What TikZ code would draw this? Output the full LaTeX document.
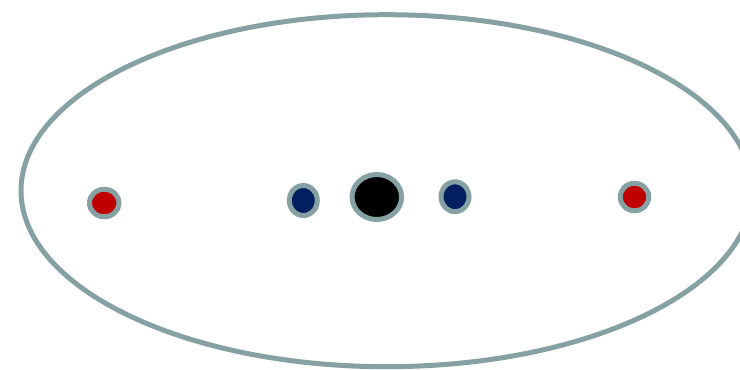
\documentclass[tikz,border=0pt]{standalone}
\usepackage{xcolor}
\usepackage{tikz}
\usetikzlibrary{shapes.geometric}

\definecolor{orbitgray}{RGB}{134,161,164}
\definecolor{planetred}{RGB}{192,0,0}
\definecolor{planetblue}{RGB}{0,32,96}

\begin{document}
\begin{tikzpicture}[x=0.02cm, y=-0.02cm,
    body/.style={ellipse, draw=orbitgray, line width=0.1cm, inner sep=0pt, outer sep=0pt}]
  \clip (0,0) rectangle (740,369);
  % orbit
  \draw[orbitgray, line width=0.1cm] (386.6,190.7) ellipse [x radius=365.6, y radius=176];
  % central body
  \node[body, fill=black, minimum width=49.5*0.02cm, minimum height=45*0.02cm] (sun) at (376.8,197) {};
  % inner bodies
  \node[body, fill=planetblue, minimum width=28*0.02cm, minimum height=30*0.02cm] (innerL) at (303.3,200.5) {};
  \node[body, fill=planetblue, minimum width=28*0.02cm, minimum height=29.8*0.02cm] (innerR) at (455,196.7) {};
  % outer bodies
  \node[body, fill=planetred, minimum width=29.5*0.02cm, minimum height=27.5*0.02cm] (outerL) at (104.2,203) {};
  \node[body, fill=planetred, minimum width=28.5*0.02cm, minimum height=27.5*0.02cm] (outerR) at (634.5,197) {};
\end{tikzpicture}
\end{document}
